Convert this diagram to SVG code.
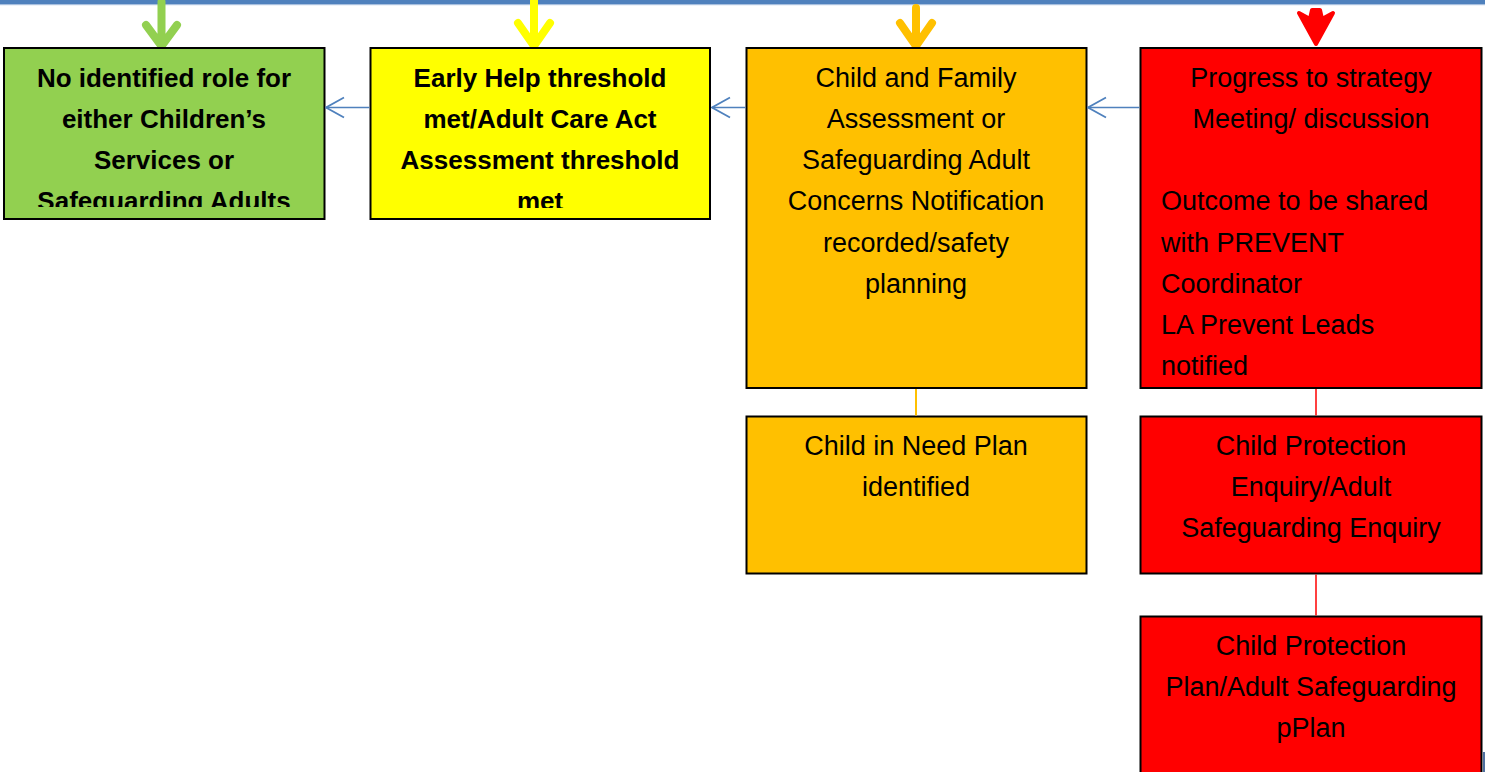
<svg xmlns="http://www.w3.org/2000/svg" width="1485" height="772" viewBox="0 0 1485 772">
<style>
.box{stroke:#000;stroke-width:2}
.t{font-family:"Liberation Sans",Arial,sans-serif;font-size:27px;fill:#000}
.b{font-weight:bold;font-size:26px}
.c{text-anchor:middle}
.conn{stroke:#4f81bd;stroke-width:1.6;fill:none}
.arr{fill:none;stroke-width:8;stroke-linecap:round;stroke-linejoin:round}
</style>
<defs>
<marker id="open" viewBox="0 0 20 24" refX="19" refY="12" markerWidth="20" markerHeight="24" markerUnits="userSpaceOnUse" orient="auto">
<path d="M1,2 L19,12 L1,22" fill="none" stroke="#4f81bd" stroke-width="1.8"/>
</marker>
<clipPath id="clipG"><rect x="3" y="47" width="323" height="160"/></clipPath>
<clipPath id="clipY"><rect x="370" y="47" width="341" height="161"/></clipPath>
</defs>
<rect width="1485" height="772" fill="#fff"/>
<rect x="0" y="0" width="1485" height="4" fill="#4f81bd"/>
<rect x="0" y="4" width="1485" height="1.2" fill="#a7bfde"/>

<g id="arrows-top">
<path class="arr" stroke="#92d050" d="M161.5,2 V44 M146,25 L161.5,46 L177,25"/>
<path class="arr" stroke="#ffff00" d="M534,0 V44 M518,23 L534,46 L550,23"/>
<path class="arr" stroke="#ffc000" d="M916,8 V44 M900,23 L916,46 L932,23"/>
<path fill="#ff0000" stroke="#ff0000" stroke-width="4" stroke-linejoin="round" d="M1299,13 L1316,44 L1333,13 L1322,19 L1320,10 L1312,10 L1310,19 Z"/>
</g>

<g id="node-green">
<rect class="box" x="4" y="48" width="320.5" height="171" fill="#92d050"/>
<g clip-path="url(#clipG)">
<text class="t b c" x="164" y="87">No identified role for</text>
<text class="t b c" x="164" y="128">either Children’s</text>
<text class="t b c" x="164" y="169">Services or</text>
<text class="t b c" x="164" y="210">Safeguarding Adults</text>
</g>
</g>

<g id="node-yellow">
<rect class="box" x="370.5" y="48" width="339.5" height="171" fill="#ffff00"/>
<g clip-path="url(#clipY)">
<text class="t b c" x="540" y="87">Early Help threshold</text>
<text class="t b c" x="540" y="128">met/Adult Care Act</text>
<text class="t b c" x="540" y="169">Assessment threshold</text>
<text class="t b c" x="540" y="210">met</text>
</g>
</g>

<g id="node-orange">
<rect class="box" x="746.5" y="48" width="340" height="340" fill="#ffc000"/>
<text class="t c" x="916" y="87">Child and Family</text>
<text class="t c" x="916" y="128">Assessment or</text>
<text class="t c" x="916" y="169">Safeguarding Adult</text>
<text class="t c" x="916" y="210">Concerns Notification</text>
<text class="t c" x="916" y="252">recorded/safety</text>
<text class="t c" x="916" y="293">planning</text>
</g>

<g id="node-red">
<rect class="box" x="1140.5" y="48" width="341" height="340" fill="#ff0000"/>
<text class="t c" x="1311" y="87">Progress to strategy</text>
<text class="t c" x="1311" y="128">Meeting/ discussion</text>
<text class="t" x="1161" y="210">Outcome to be shared</text>
<text class="t" x="1161" y="252">with PREVENT</text>
<text class="t" x="1161" y="293">Coordinator</text>
<text class="t" x="1161" y="334">LA Prevent Leads</text>
<text class="t" x="1161" y="375">notified</text>
</g>

<g id="node-cin">
<rect class="box" x="746.5" y="416.5" width="340" height="157" fill="#ffc000"/>
<text class="t c" x="916" y="455">Child in Need Plan</text>
<text class="t c" x="916" y="496">identified</text>
</g>

<g id="node-cpe">
<rect class="box" x="1140.5" y="416.5" width="341" height="157" fill="#ff0000"/>
<text class="t c" x="1311" y="455">Child Protection</text>
<text class="t c" x="1311" y="496">Enquiry/Adult</text>
<text class="t c" x="1311" y="537">Safeguarding Enquiry</text>
</g>

<g id="node-cpp">
<path d="M1140.5,790 V616.5 H1481.5 V790" fill="#ff0000" stroke="#000" stroke-width="2"/>
<text class="t c" x="1311" y="655">Child Protection</text>
<text class="t c" x="1311" y="696">Plan/Adult Safeguarding</text>
<text class="t c" x="1311" y="737">pPlan</text>
</g>

<g id="connectors">
<line class="conn" x1="369.5" y1="107.5" x2="326" y2="107.5" marker-end="url(#open)"/>
<line class="conn" x1="745.5" y1="107.5" x2="712" y2="107.5" marker-end="url(#open)"/>
<line class="conn" x1="1139.5" y1="107.5" x2="1088" y2="107.5" marker-end="url(#open)"/>
<line x1="916" y1="389" x2="916" y2="415.5" stroke="#ffc000" stroke-width="2"/>
<line x1="1316" y1="389" x2="1316" y2="415.5" stroke="#ff0000" stroke-width="1.5"/>
<line x1="1316" y1="574.5" x2="1316" y2="615.5" stroke="#ff0000" stroke-width="1.5"/>
</g>
<rect x="1483" y="752" width="2" height="20" fill="#4f6f9f"/>
</svg>
